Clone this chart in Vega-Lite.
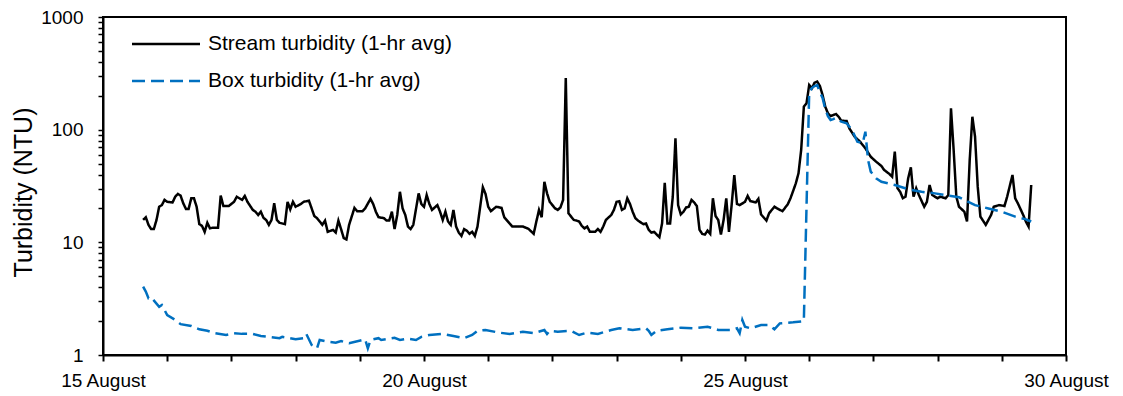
{
  "$schema": "https://vega.github.io/schema/vega-lite/v6.json",
  "width": 963,
  "height": 338,
  "autosize": {"type": "none"},
  "padding": {"left": 103, "top": 17, "right": 57, "bottom": 41},
  "background": "white",
  "config": {"font": "Liberation Sans", "view": {"stroke": "black", "strokeWidth": 2}},
  "data": {"values": [
    {"t":"2019-08-15T15:00","series":"Stream turbidity (1-hr avg)","ntu":15.8},
    {"t":"2019-08-15T16:00","series":"Stream turbidity (1-hr avg)","ntu":16.7},
    {"t":"2019-08-15T17:00","series":"Stream turbidity (1-hr avg)","ntu":14.3},
    {"t":"2019-08-15T18:00","series":"Stream turbidity (1-hr avg)","ntu":13.1},
    {"t":"2019-08-15T19:00","series":"Stream turbidity (1-hr avg)","ntu":13.1},
    {"t":"2019-08-15T20:00","series":"Stream turbidity (1-hr avg)","ntu":15.8},
    {"t":"2019-08-15T21:00","series":"Stream turbidity (1-hr avg)","ntu":20.7},
    {"t":"2019-08-15T22:00","series":"Stream turbidity (1-hr avg)","ntu":21.4},
    {"t":"2019-08-15T23:00","series":"Stream turbidity (1-hr avg)","ntu":23.8},
    {"t":"2019-08-16T00:00","series":"Stream turbidity (1-hr avg)","ntu":22.9},
    {"t":"2019-08-16T02:00","series":"Stream turbidity (1-hr avg)","ntu":22.6},
    {"t":"2019-08-16T03:00","series":"Stream turbidity (1-hr avg)","ntu":25.4},
    {"t":"2019-08-16T04:00","series":"Stream turbidity (1-hr avg)","ntu":26.9},
    {"t":"2019-08-16T05:00","series":"Stream turbidity (1-hr avg)","ntu":26.0},
    {"t":"2019-08-16T06:00","series":"Stream turbidity (1-hr avg)","ntu":22.2},
    {"t":"2019-08-16T07:00","series":"Stream turbidity (1-hr avg)","ntu":19.8},
    {"t":"2019-08-16T08:00","series":"Stream turbidity (1-hr avg)","ntu":19.8},
    {"t":"2019-08-16T09:00","series":"Stream turbidity (1-hr avg)","ntu":24.6},
    {"t":"2019-08-16T10:00","series":"Stream turbidity (1-hr avg)","ntu":24.6},
    {"t":"2019-08-16T11:00","series":"Stream turbidity (1-hr avg)","ntu":20.7},
    {"t":"2019-08-16T12:00","series":"Stream turbidity (1-hr avg)","ntu":14.5},
    {"t":"2019-08-16T13:00","series":"Stream turbidity (1-hr avg)","ntu":14.0},
    {"t":"2019-08-16T14:00","series":"Stream turbidity (1-hr avg)","ntu":12.4},
    {"t":"2019-08-16T15:00","series":"Stream turbidity (1-hr avg)","ntu":14.9},
    {"t":"2019-08-16T16:00","series":"Stream turbidity (1-hr avg)","ntu":13.3},
    {"t":"2019-08-16T17:00","series":"Stream turbidity (1-hr avg)","ntu":13.5},
    {"t":"2019-08-16T19:00","series":"Stream turbidity (1-hr avg)","ntu":13.5},
    {"t":"2019-08-16T20:00","series":"Stream turbidity (1-hr avg)","ntu":26.0},
    {"t":"2019-08-16T21:00","series":"Stream turbidity (1-hr avg)","ntu":21.0},
    {"t":"2019-08-16T23:00","series":"Stream turbidity (1-hr avg)","ntu":21.0},
    {"t":"2019-08-17T01:00","series":"Stream turbidity (1-hr avg)","ntu":22.9},
    {"t":"2019-08-17T02:00","series":"Stream turbidity (1-hr avg)","ntu":25.4},
    {"t":"2019-08-17T03:00","series":"Stream turbidity (1-hr avg)","ntu":24.6},
    {"t":"2019-08-17T04:00","series":"Stream turbidity (1-hr avg)","ntu":23.8},
    {"t":"2019-08-17T05:00","series":"Stream turbidity (1-hr avg)","ntu":25.8},
    {"t":"2019-08-17T06:00","series":"Stream turbidity (1-hr avg)","ntu":22.9},
    {"t":"2019-08-17T08:00","series":"Stream turbidity (1-hr avg)","ntu":19.4},
    {"t":"2019-08-17T09:00","series":"Stream turbidity (1-hr avg)","ntu":18.7},
    {"t":"2019-08-17T10:00","series":"Stream turbidity (1-hr avg)","ntu":17.5},
    {"t":"2019-08-17T11:00","series":"Stream turbidity (1-hr avg)","ntu":18.7},
    {"t":"2019-08-17T12:00","series":"Stream turbidity (1-hr avg)","ntu":16.5},
    {"t":"2019-08-17T13:00","series":"Stream turbidity (1-hr avg)","ntu":15.8},
    {"t":"2019-08-17T14:00","series":"Stream turbidity (1-hr avg)","ntu":14.3},
    {"t":"2019-08-17T15:00","series":"Stream turbidity (1-hr avg)","ntu":15.8},
    {"t":"2019-08-17T16:00","series":"Stream turbidity (1-hr avg)","ntu":22.2},
    {"t":"2019-08-17T17:00","series":"Stream turbidity (1-hr avg)","ntu":15.8},
    {"t":"2019-08-17T18:00","series":"Stream turbidity (1-hr avg)","ntu":14.9},
    {"t":"2019-08-17T20:00","series":"Stream turbidity (1-hr avg)","ntu":14.5},
    {"t":"2019-08-17T21:00","series":"Stream turbidity (1-hr avg)","ntu":22.9},
    {"t":"2019-08-17T22:00","series":"Stream turbidity (1-hr avg)","ntu":19.6},
    {"t":"2019-08-17T23:00","series":"Stream turbidity (1-hr avg)","ntu":22.9},
    {"t":"2019-08-18T00:00","series":"Stream turbidity (1-hr avg)","ntu":20.7},
    {"t":"2019-08-18T02:00","series":"Stream turbidity (1-hr avg)","ntu":21.9},
    {"t":"2019-08-18T03:00","series":"Stream turbidity (1-hr avg)","ntu":22.9},
    {"t":"2019-08-18T05:00","series":"Stream turbidity (1-hr avg)","ntu":23.4},
    {"t":"2019-08-18T06:00","series":"Stream turbidity (1-hr avg)","ntu":20.0},
    {"t":"2019-08-18T07:00","series":"Stream turbidity (1-hr avg)","ntu":17.1},
    {"t":"2019-08-18T08:00","series":"Stream turbidity (1-hr avg)","ntu":16.4},
    {"t":"2019-08-18T10:00","series":"Stream turbidity (1-hr avg)","ntu":14.3},
    {"t":"2019-08-18T11:00","series":"Stream turbidity (1-hr avg)","ntu":15.6},
    {"t":"2019-08-18T12:00","series":"Stream turbidity (1-hr avg)","ntu":12.4},
    {"t":"2019-08-18T14:00","series":"Stream turbidity (1-hr avg)","ntu":12.9},
    {"t":"2019-08-18T15:00","series":"Stream turbidity (1-hr avg)","ntu":12.2},
    {"t":"2019-08-18T16:00","series":"Stream turbidity (1-hr avg)","ntu":15.6},
    {"t":"2019-08-18T17:00","series":"Stream turbidity (1-hr avg)","ntu":13.1},
    {"t":"2019-08-18T18:00","series":"Stream turbidity (1-hr avg)","ntu":10.9},
    {"t":"2019-08-18T19:00","series":"Stream turbidity (1-hr avg)","ntu":10.6},
    {"t":"2019-08-18T20:00","series":"Stream turbidity (1-hr avg)","ntu":14.3},
    {"t":"2019-08-18T22:00","series":"Stream turbidity (1-hr avg)","ntu":20.2},
    {"t":"2019-08-18T23:00","series":"Stream turbidity (1-hr avg)","ntu":18.9},
    {"t":"2019-08-19T01:00","series":"Stream turbidity (1-hr avg)","ntu":18.9},
    {"t":"2019-08-19T02:00","series":"Stream turbidity (1-hr avg)","ntu":20.0},
    {"t":"2019-08-19T04:00","series":"Stream turbidity (1-hr avg)","ntu":24.3},
    {"t":"2019-08-19T05:00","series":"Stream turbidity (1-hr avg)","ntu":21.9},
    {"t":"2019-08-19T06:00","series":"Stream turbidity (1-hr avg)","ntu":18.7},
    {"t":"2019-08-19T07:00","series":"Stream turbidity (1-hr avg)","ntu":16.7},
    {"t":"2019-08-19T09:00","series":"Stream turbidity (1-hr avg)","ntu":16.4},
    {"t":"2019-08-19T10:00","series":"Stream turbidity (1-hr avg)","ntu":15.6},
    {"t":"2019-08-19T11:00","series":"Stream turbidity (1-hr avg)","ntu":15.6},
    {"t":"2019-08-19T12:00","series":"Stream turbidity (1-hr avg)","ntu":18.7},
    {"t":"2019-08-19T13:00","series":"Stream turbidity (1-hr avg)","ntu":13.1},
    {"t":"2019-08-19T14:00","series":"Stream turbidity (1-hr avg)","ntu":17.5},
    {"t":"2019-08-19T15:00","series":"Stream turbidity (1-hr avg)","ntu":28.1},
    {"t":"2019-08-19T16:00","series":"Stream turbidity (1-hr avg)","ntu":20.0},
    {"t":"2019-08-19T17:00","series":"Stream turbidity (1-hr avg)","ntu":17.5},
    {"t":"2019-08-19T18:00","series":"Stream turbidity (1-hr avg)","ntu":13.8},
    {"t":"2019-08-19T19:00","series":"Stream turbidity (1-hr avg)","ntu":13.1},
    {"t":"2019-08-19T20:00","series":"Stream turbidity (1-hr avg)","ntu":14.3},
    {"t":"2019-08-19T22:00","series":"Stream turbidity (1-hr avg)","ntu":27.2},
    {"t":"2019-08-19T23:00","series":"Stream turbidity (1-hr avg)","ntu":21.9},
    {"t":"2019-08-20T00:00","series":"Stream turbidity (1-hr avg)","ntu":20.7},
    {"t":"2019-08-20T01:00","series":"Stream turbidity (1-hr avg)","ntu":26.3},
    {"t":"2019-08-20T02:00","series":"Stream turbidity (1-hr avg)","ntu":21.9},
    {"t":"2019-08-20T03:00","series":"Stream turbidity (1-hr avg)","ntu":19.4},
    {"t":"2019-08-20T05:00","series":"Stream turbidity (1-hr avg)","ntu":21.4},
    {"t":"2019-08-20T06:00","series":"Stream turbidity (1-hr avg)","ntu":18.7},
    {"t":"2019-08-20T07:00","series":"Stream turbidity (1-hr avg)","ntu":15.8},
    {"t":"2019-08-20T08:00","series":"Stream turbidity (1-hr avg)","ntu":18.7},
    {"t":"2019-08-20T09:00","series":"Stream turbidity (1-hr avg)","ntu":15.3},
    {"t":"2019-08-20T10:00","series":"Stream turbidity (1-hr avg)","ntu":14.3},
    {"t":"2019-08-20T11:00","series":"Stream turbidity (1-hr avg)","ntu":19.4},
    {"t":"2019-08-20T12:00","series":"Stream turbidity (1-hr avg)","ntu":13.8},
    {"t":"2019-08-20T13:00","series":"Stream turbidity (1-hr avg)","ntu":12.2},
    {"t":"2019-08-20T14:00","series":"Stream turbidity (1-hr avg)","ntu":11.4},
    {"t":"2019-08-20T15:00","series":"Stream turbidity (1-hr avg)","ntu":13.1},
    {"t":"2019-08-20T16:00","series":"Stream turbidity (1-hr avg)","ntu":12.7},
    {"t":"2019-08-20T17:00","series":"Stream turbidity (1-hr avg)","ntu":11.9},
    {"t":"2019-08-20T18:00","series":"Stream turbidity (1-hr avg)","ntu":12.4},
    {"t":"2019-08-20T19:00","series":"Stream turbidity (1-hr avg)","ntu":11.4},
    {"t":"2019-08-20T20:00","series":"Stream turbidity (1-hr avg)","ntu":13.8},
    {"t":"2019-08-20T21:00","series":"Stream turbidity (1-hr avg)","ntu":20.7},
    {"t":"2019-08-20T22:00","series":"Stream turbidity (1-hr avg)","ntu":30.8},
    {"t":"2019-08-20T23:00","series":"Stream turbidity (1-hr avg)","ntu":26.9},
    {"t":"2019-08-21T00:00","series":"Stream turbidity (1-hr avg)","ntu":20.7},
    {"t":"2019-08-21T01:00","series":"Stream turbidity (1-hr avg)","ntu":18.9},
    {"t":"2019-08-21T03:00","series":"Stream turbidity (1-hr avg)","ntu":20.7},
    {"t":"2019-08-21T05:00","series":"Stream turbidity (1-hr avg)","ntu":20.2},
    {"t":"2019-08-21T06:00","series":"Stream turbidity (1-hr avg)","ntu":16.7},
    {"t":"2019-08-21T08:00","series":"Stream turbidity (1-hr avg)","ntu":14.7},
    {"t":"2019-08-21T09:00","series":"Stream turbidity (1-hr avg)","ntu":13.8},
    {"t":"2019-08-21T13:00","series":"Stream turbidity (1-hr avg)","ntu":13.8},
    {"t":"2019-08-21T15:00","series":"Stream turbidity (1-hr avg)","ntu":13.2},
    {"t":"2019-08-21T17:00","series":"Stream turbidity (1-hr avg)","ntu":11.9},
    {"t":"2019-08-21T18:00","series":"Stream turbidity (1-hr avg)","ntu":15.3},
    {"t":"2019-08-21T19:00","series":"Stream turbidity (1-hr avg)","ntu":19.4},
    {"t":"2019-08-21T20:00","series":"Stream turbidity (1-hr avg)","ntu":16.7},
    {"t":"2019-08-21T21:00","series":"Stream turbidity (1-hr avg)","ntu":34.5},
    {"t":"2019-08-21T22:00","series":"Stream turbidity (1-hr avg)","ntu":27.2},
    {"t":"2019-08-21T23:00","series":"Stream turbidity (1-hr avg)","ntu":22.9},
    {"t":"2019-08-22T01:00","series":"Stream turbidity (1-hr avg)","ntu":20.0},
    {"t":"2019-08-22T02:00","series":"Stream turbidity (1-hr avg)","ntu":19.4},
    {"t":"2019-08-22T03:00","series":"Stream turbidity (1-hr avg)","ntu":20.4},
    {"t":"2019-08-22T04:00","series":"Stream turbidity (1-hr avg)","ntu":23.8},
    {"t":"2019-08-22T05:00","series":"Stream turbidity (1-hr avg)","ntu":287},
    {"t":"2019-08-22T06:00","series":"Stream turbidity (1-hr avg)","ntu":18.1},
    {"t":"2019-08-22T08:00","series":"Stream turbidity (1-hr avg)","ntu":15.8},
    {"t":"2019-08-22T09:00","series":"Stream turbidity (1-hr avg)","ntu":15.6},
    {"t":"2019-08-22T10:00","series":"Stream turbidity (1-hr avg)","ntu":15.3},
    {"t":"2019-08-22T11:00","series":"Stream turbidity (1-hr avg)","ntu":14.0},
    {"t":"2019-08-22T12:00","series":"Stream turbidity (1-hr avg)","ntu":13.3},
    {"t":"2019-08-22T13:00","series":"Stream turbidity (1-hr avg)","ntu":13.8},
    {"t":"2019-08-22T14:00","series":"Stream turbidity (1-hr avg)","ntu":12.4},
    {"t":"2019-08-22T16:00","series":"Stream turbidity (1-hr avg)","ntu":12.4},
    {"t":"2019-08-22T17:00","series":"Stream turbidity (1-hr avg)","ntu":13.1},
    {"t":"2019-08-22T18:00","series":"Stream turbidity (1-hr avg)","ntu":12.4},
    {"t":"2019-08-22T19:00","series":"Stream turbidity (1-hr avg)","ntu":13.8},
    {"t":"2019-08-22T20:00","series":"Stream turbidity (1-hr avg)","ntu":15.8},
    {"t":"2019-08-22T22:00","series":"Stream turbidity (1-hr avg)","ntu":17.5},
    {"t":"2019-08-22T23:00","series":"Stream turbidity (1-hr avg)","ntu":19.4},
    {"t":"2019-08-23T00:00","series":"Stream turbidity (1-hr avg)","ntu":22.9},
    {"t":"2019-08-23T01:00","series":"Stream turbidity (1-hr avg)","ntu":23.2},
    {"t":"2019-08-23T02:00","series":"Stream turbidity (1-hr avg)","ntu":19.4},
    {"t":"2019-08-23T03:00","series":"Stream turbidity (1-hr avg)","ntu":20.0},
    {"t":"2019-08-23T04:00","series":"Stream turbidity (1-hr avg)","ntu":24.6},
    {"t":"2019-08-23T05:00","series":"Stream turbidity (1-hr avg)","ntu":21.9},
    {"t":"2019-08-23T06:00","series":"Stream turbidity (1-hr avg)","ntu":18.7},
    {"t":"2019-08-23T07:00","series":"Stream turbidity (1-hr avg)","ntu":16.4},
    {"t":"2019-08-23T08:00","series":"Stream turbidity (1-hr avg)","ntu":15.6},
    {"t":"2019-08-23T10:00","series":"Stream turbidity (1-hr avg)","ntu":14.5},
    {"t":"2019-08-23T11:00","series":"Stream turbidity (1-hr avg)","ntu":14.7},
    {"t":"2019-08-23T12:00","series":"Stream turbidity (1-hr avg)","ntu":12.9},
    {"t":"2019-08-23T13:00","series":"Stream turbidity (1-hr avg)","ntu":12.2},
    {"t":"2019-08-23T14:00","series":"Stream turbidity (1-hr avg)","ntu":12.4},
    {"t":"2019-08-23T16:00","series":"Stream turbidity (1-hr avg)","ntu":11.1},
    {"t":"2019-08-23T17:00","series":"Stream turbidity (1-hr avg)","ntu":14.7},
    {"t":"2019-08-23T18:00","series":"Stream turbidity (1-hr avg)","ntu":33.8},
    {"t":"2019-08-23T19:00","series":"Stream turbidity (1-hr avg)","ntu":14.7},
    {"t":"2019-08-23T20:00","series":"Stream turbidity (1-hr avg)","ntu":14.7},
    {"t":"2019-08-23T21:00","series":"Stream turbidity (1-hr avg)","ntu":25.4},
    {"t":"2019-08-23T22:00","series":"Stream turbidity (1-hr avg)","ntu":83.8},
    {"t":"2019-08-23T23:00","series":"Stream turbidity (1-hr avg)","ntu":21.4},
    {"t":"2019-08-24T00:00","series":"Stream turbidity (1-hr avg)","ntu":17.7},
    {"t":"2019-08-24T01:00","series":"Stream turbidity (1-hr avg)","ntu":18.7},
    {"t":"2019-08-24T02:00","series":"Stream turbidity (1-hr avg)","ntu":20.4},
    {"t":"2019-08-24T03:00","series":"Stream turbidity (1-hr avg)","ntu":20.7},
    {"t":"2019-08-24T04:00","series":"Stream turbidity (1-hr avg)","ntu":23.8},
    {"t":"2019-08-24T05:00","series":"Stream turbidity (1-hr avg)","ntu":22.6},
    {"t":"2019-08-24T06:00","series":"Stream turbidity (1-hr avg)","ntu":21.0},
    {"t":"2019-08-24T07:00","series":"Stream turbidity (1-hr avg)","ntu":12.9},
    {"t":"2019-08-24T08:00","series":"Stream turbidity (1-hr avg)","ntu":11.9},
    {"t":"2019-08-24T09:00","series":"Stream turbidity (1-hr avg)","ntu":11.7},
    {"t":"2019-08-24T10:00","series":"Stream turbidity (1-hr avg)","ntu":12.7},
    {"t":"2019-08-24T11:00","series":"Stream turbidity (1-hr avg)","ntu":11.9},
    {"t":"2019-08-24T12:00","series":"Stream turbidity (1-hr avg)","ntu":24.6},
    {"t":"2019-08-24T13:00","series":"Stream turbidity (1-hr avg)","ntu":17.1},
    {"t":"2019-08-24T14:00","series":"Stream turbidity (1-hr avg)","ntu":15.8},
    {"t":"2019-08-24T15:00","series":"Stream turbidity (1-hr avg)","ntu":11.7},
    {"t":"2019-08-24T16:00","series":"Stream turbidity (1-hr avg)","ntu":15.8},
    {"t":"2019-08-24T17:00","series":"Stream turbidity (1-hr avg)","ntu":24.6},
    {"t":"2019-08-24T18:00","series":"Stream turbidity (1-hr avg)","ntu":12.4},
    {"t":"2019-08-24T19:00","series":"Stream turbidity (1-hr avg)","ntu":21.4},
    {"t":"2019-08-24T20:00","series":"Stream turbidity (1-hr avg)","ntu":39.6},
    {"t":"2019-08-24T21:00","series":"Stream turbidity (1-hr avg)","ntu":21.9},
    {"t":"2019-08-24T22:00","series":"Stream turbidity (1-hr avg)","ntu":21.4},
    {"t":"2019-08-25T00:00","series":"Stream turbidity (1-hr avg)","ntu":22.9},
    {"t":"2019-08-25T01:00","series":"Stream turbidity (1-hr avg)","ntu":25.8},
    {"t":"2019-08-25T02:00","series":"Stream turbidity (1-hr avg)","ntu":23.2},
    {"t":"2019-08-25T04:00","series":"Stream turbidity (1-hr avg)","ntu":22.6},
    {"t":"2019-08-25T05:00","series":"Stream turbidity (1-hr avg)","ntu":24.3},
    {"t":"2019-08-25T06:00","series":"Stream turbidity (1-hr avg)","ntu":17.7},
    {"t":"2019-08-25T08:00","series":"Stream turbidity (1-hr avg)","ntu":15.6},
    {"t":"2019-08-25T09:00","series":"Stream turbidity (1-hr avg)","ntu":18.1},
    {"t":"2019-08-25T11:00","series":"Stream turbidity (1-hr avg)","ntu":20.7},
    {"t":"2019-08-25T12:00","series":"Stream turbidity (1-hr avg)","ntu":20.0},
    {"t":"2019-08-25T14:00","series":"Stream turbidity (1-hr avg)","ntu":18.9},
    {"t":"2019-08-25T16:00","series":"Stream turbidity (1-hr avg)","ntu":21.8},
    {"t":"2019-08-25T17:00","series":"Stream turbidity (1-hr avg)","ntu":24.6},
    {"t":"2019-08-25T18:00","series":"Stream turbidity (1-hr avg)","ntu":28.6},
    {"t":"2019-08-25T19:00","series":"Stream turbidity (1-hr avg)","ntu":33.4},
    {"t":"2019-08-25T20:00","series":"Stream turbidity (1-hr avg)","ntu":41.0},
    {"t":"2019-08-25T21:00","series":"Stream turbidity (1-hr avg)","ntu":66},
    {"t":"2019-08-25T22:00","series":"Stream turbidity (1-hr avg)","ntu":160},
    {"t":"2019-08-25T23:00","series":"Stream turbidity (1-hr avg)","ntu":171.5},
    {"t":"2019-08-26T00:00","series":"Stream turbidity (1-hr avg)","ntu":249},
    {"t":"2019-08-26T01:00","series":"Stream turbidity (1-hr avg)","ntu":233},
    {"t":"2019-08-26T02:00","series":"Stream turbidity (1-hr avg)","ntu":261},
    {"t":"2019-08-26T03:00","series":"Stream turbidity (1-hr avg)","ntu":267},
    {"t":"2019-08-26T04:00","series":"Stream turbidity (1-hr avg)","ntu":244},
    {"t":"2019-08-26T05:00","series":"Stream turbidity (1-hr avg)","ntu":203},
    {"t":"2019-08-26T06:00","series":"Stream turbidity (1-hr avg)","ntu":160},
    {"t":"2019-08-26T07:00","series":"Stream turbidity (1-hr avg)","ntu":139.7},
    {"t":"2019-08-26T08:00","series":"Stream turbidity (1-hr avg)","ntu":132.2},
    {"t":"2019-08-26T10:00","series":"Stream turbidity (1-hr avg)","ntu":137.6},
    {"t":"2019-08-26T11:00","series":"Stream turbidity (1-hr avg)","ntu":130.4},
    {"t":"2019-08-26T12:00","series":"Stream turbidity (1-hr avg)","ntu":120.1},
    {"t":"2019-08-26T14:00","series":"Stream turbidity (1-hr avg)","ntu":119.4},
    {"t":"2019-08-26T15:00","series":"Stream turbidity (1-hr avg)","ntu":102.8},
    {"t":"2019-08-26T17:00","series":"Stream turbidity (1-hr avg)","ntu":86.6},
    {"t":"2019-08-26T19:00","series":"Stream turbidity (1-hr avg)","ntu":78.2},
    {"t":"2019-08-26T21:00","series":"Stream turbidity (1-hr avg)","ntu":68.3},
    {"t":"2019-08-26T23:00","series":"Stream turbidity (1-hr avg)","ntu":57.5},
    {"t":"2019-08-27T01:00","series":"Stream turbidity (1-hr avg)","ntu":52.0},
    {"t":"2019-08-27T03:00","series":"Stream turbidity (1-hr avg)","ntu":47.6},
    {"t":"2019-08-27T04:00","series":"Stream turbidity (1-hr avg)","ntu":43.9},
    {"t":"2019-08-27T06:00","series":"Stream turbidity (1-hr avg)","ntu":40.4},
    {"t":"2019-08-27T07:00","series":"Stream turbidity (1-hr avg)","ntu":38.2},
    {"t":"2019-08-27T08:00","series":"Stream turbidity (1-hr avg)","ntu":63.8},
    {"t":"2019-08-27T09:00","series":"Stream turbidity (1-hr avg)","ntu":30.2},
    {"t":"2019-08-27T10:00","series":"Stream turbidity (1-hr avg)","ntu":28.1},
    {"t":"2019-08-27T11:00","series":"Stream turbidity (1-hr avg)","ntu":24.6},
    {"t":"2019-08-27T12:00","series":"Stream turbidity (1-hr avg)","ntu":25.4},
    {"t":"2019-08-27T13:00","series":"Stream turbidity (1-hr avg)","ntu":37.0},
    {"t":"2019-08-27T14:00","series":"Stream turbidity (1-hr avg)","ntu":46.3},
    {"t":"2019-08-27T15:00","series":"Stream turbidity (1-hr avg)","ntu":25.4},
    {"t":"2019-08-27T16:00","series":"Stream turbidity (1-hr avg)","ntu":30.2},
    {"t":"2019-08-27T17:00","series":"Stream turbidity (1-hr avg)","ntu":26.3},
    {"t":"2019-08-27T19:00","series":"Stream turbidity (1-hr avg)","ntu":20.7},
    {"t":"2019-08-27T20:00","series":"Stream turbidity (1-hr avg)","ntu":22.9},
    {"t":"2019-08-27T21:00","series":"Stream turbidity (1-hr avg)","ntu":32.3},
    {"t":"2019-08-27T22:00","series":"Stream turbidity (1-hr avg)","ntu":26.3},
    {"t":"2019-08-28T00:00","series":"Stream turbidity (1-hr avg)","ntu":24.6},
    {"t":"2019-08-28T01:00","series":"Stream turbidity (1-hr avg)","ntu":25.4},
    {"t":"2019-08-28T03:00","series":"Stream turbidity (1-hr avg)","ntu":24.6},
    {"t":"2019-08-28T04:00","series":"Stream turbidity (1-hr avg)","ntu":26.3},
    {"t":"2019-08-28T05:00","series":"Stream turbidity (1-hr avg)","ntu":154.7},
    {"t":"2019-08-28T06:00","series":"Stream turbidity (1-hr avg)","ntu":66},
    {"t":"2019-08-28T07:00","series":"Stream turbidity (1-hr avg)","ntu":25.4},
    {"t":"2019-08-28T08:00","series":"Stream turbidity (1-hr avg)","ntu":20.7},
    {"t":"2019-08-28T10:00","series":"Stream turbidity (1-hr avg)","ntu":18.7},
    {"t":"2019-08-28T11:00","series":"Stream turbidity (1-hr avg)","ntu":15.3},
    {"t":"2019-08-28T12:00","series":"Stream turbidity (1-hr avg)","ntu":53.8},
    {"t":"2019-08-28T13:00","series":"Stream turbidity (1-hr avg)","ntu":130.3},
    {"t":"2019-08-28T14:00","series":"Stream turbidity (1-hr avg)","ntu":86.6},
    {"t":"2019-08-28T15:00","series":"Stream turbidity (1-hr avg)","ntu":31.2},
    {"t":"2019-08-28T16:00","series":"Stream turbidity (1-hr avg)","ntu":16.9},
    {"t":"2019-08-28T18:00","series":"Stream turbidity (1-hr avg)","ntu":14.3},
    {"t":"2019-08-28T20:00","series":"Stream turbidity (1-hr avg)","ntu":17.5},
    {"t":"2019-08-28T21:00","series":"Stream turbidity (1-hr avg)","ntu":20.7},
    {"t":"2019-08-28T23:00","series":"Stream turbidity (1-hr avg)","ntu":21.4},
    {"t":"2019-08-29T01:00","series":"Stream turbidity (1-hr avg)","ntu":21.0},
    {"t":"2019-08-29T02:00","series":"Stream turbidity (1-hr avg)","ntu":25.4},
    {"t":"2019-08-29T04:00","series":"Stream turbidity (1-hr avg)","ntu":39.6},
    {"t":"2019-08-29T05:00","series":"Stream turbidity (1-hr avg)","ntu":24.6},
    {"t":"2019-08-29T06:00","series":"Stream turbidity (1-hr avg)","ntu":22.2},
    {"t":"2019-08-29T08:00","series":"Stream turbidity (1-hr avg)","ntu":17.5},
    {"t":"2019-08-29T09:00","series":"Stream turbidity (1-hr avg)","ntu":15.3},
    {"t":"2019-08-29T10:00","series":"Stream turbidity (1-hr avg)","ntu":13.8},
    {"t":"2019-08-29T11:00","series":"Stream turbidity (1-hr avg)","ntu":32.3},
    {"t":"2019-08-15T15:00","series":"Box turbidity (1-hr avg)","ntu":4.04},
    {"t":"2019-08-15T16:00","series":"Box turbidity (1-hr avg)","ntu":3.65},
    {"t":"2019-08-15T17:00","series":"Box turbidity (1-hr avg)","ntu":3.19},
    {"t":"2019-08-15T18:00","series":"Box turbidity (1-hr avg)","ntu":3.25},
    {"t":"2019-08-15T21:00","series":"Box turbidity (1-hr avg)","ntu":2.68},
    {"t":"2019-08-15T22:00","series":"Box turbidity (1-hr avg)","ntu":2.78},
    {"t":"2019-08-16T00:00","series":"Box turbidity (1-hr avg)","ntu":2.26},
    {"t":"2019-08-16T03:00","series":"Box turbidity (1-hr avg)","ntu":2.05},
    {"t":"2019-08-16T05:00","series":"Box turbidity (1-hr avg)","ntu":1.88},
    {"t":"2019-08-16T09:00","series":"Box turbidity (1-hr avg)","ntu":1.81},
    {"t":"2019-08-16T12:00","series":"Box turbidity (1-hr avg)","ntu":1.69},
    {"t":"2019-08-16T15:00","series":"Box turbidity (1-hr avg)","ntu":1.64},
    {"t":"2019-08-16T18:00","series":"Box turbidity (1-hr avg)","ntu":1.56},
    {"t":"2019-08-16T22:00","series":"Box turbidity (1-hr avg)","ntu":1.505},
    {"t":"2019-08-17T01:00","series":"Box turbidity (1-hr avg)","ntu":1.56},
    {"t":"2019-08-17T04:00","series":"Box turbidity (1-hr avg)","ntu":1.54},
    {"t":"2019-08-17T08:00","series":"Box turbidity (1-hr avg)","ntu":1.54},
    {"t":"2019-08-17T11:00","series":"Box turbidity (1-hr avg)","ntu":1.475},
    {"t":"2019-08-17T14:00","series":"Box turbidity (1-hr avg)","ntu":1.45},
    {"t":"2019-08-17T18:00","series":"Box turbidity (1-hr avg)","ntu":1.41},
    {"t":"2019-08-17T19:00","series":"Box turbidity (1-hr avg)","ntu":1.45},
    {"t":"2019-08-18T00:00","series":"Box turbidity (1-hr avg)","ntu":1.38},
    {"t":"2019-08-18T03:00","series":"Box turbidity (1-hr avg)","ntu":1.41},
    {"t":"2019-08-18T04:00","series":"Box turbidity (1-hr avg)","ntu":1.54},
    {"t":"2019-08-18T06:00","series":"Box turbidity (1-hr avg)","ntu":1.227},
    {"t":"2019-08-18T08:00","series":"Box turbidity (1-hr avg)","ntu":1.147},
    {"t":"2019-08-18T09:00","series":"Box turbidity (1-hr avg)","ntu":1.36},
    {"t":"2019-08-18T12:00","series":"Box turbidity (1-hr avg)","ntu":1.31},
    {"t":"2019-08-18T15:00","series":"Box turbidity (1-hr avg)","ntu":1.286},
    {"t":"2019-08-18T17:00","series":"Box turbidity (1-hr avg)","ntu":1.33},
    {"t":"2019-08-18T19:00","series":"Box turbidity (1-hr avg)","ntu":1.286},
    {"t":"2019-08-18T20:00","series":"Box turbidity (1-hr avg)","ntu":1.27},
    {"t":"2019-08-19T01:00","series":"Box turbidity (1-hr avg)","ntu":1.36},
    {"t":"2019-08-19T02:00","series":"Box turbidity (1-hr avg)","ntu":1.38},
    {"t":"2019-08-19T03:00","series":"Box turbidity (1-hr avg)","ntu":1.147},
    {"t":"2019-08-19T04:00","series":"Box turbidity (1-hr avg)","ntu":1.36},
    {"t":"2019-08-19T07:00","series":"Box turbidity (1-hr avg)","ntu":1.41},
    {"t":"2019-08-19T08:00","series":"Box turbidity (1-hr avg)","ntu":1.36},
    {"t":"2019-08-19T13:00","series":"Box turbidity (1-hr avg)","ntu":1.42},
    {"t":"2019-08-19T15:00","series":"Box turbidity (1-hr avg)","ntu":1.36},
    {"t":"2019-08-19T18:00","series":"Box turbidity (1-hr avg)","ntu":1.395},
    {"t":"2019-08-19T21:00","series":"Box turbidity (1-hr avg)","ntu":1.36},
    {"t":"2019-08-19T23:00","series":"Box turbidity (1-hr avg)","ntu":1.45},
    {"t":"2019-08-20T02:00","series":"Box turbidity (1-hr avg)","ntu":1.505},
    {"t":"2019-08-20T07:00","series":"Box turbidity (1-hr avg)","ntu":1.54},
    {"t":"2019-08-20T11:00","series":"Box turbidity (1-hr avg)","ntu":1.475},
    {"t":"2019-08-20T15:00","series":"Box turbidity (1-hr avg)","ntu":1.41},
    {"t":"2019-08-20T18:00","series":"Box turbidity (1-hr avg)","ntu":1.505},
    {"t":"2019-08-20T20:00","series":"Box turbidity (1-hr avg)","ntu":1.64},
    {"t":"2019-08-20T23:00","series":"Box turbidity (1-hr avg)","ntu":1.667},
    {"t":"2019-08-21T04:00","series":"Box turbidity (1-hr avg)","ntu":1.58},
    {"t":"2019-08-21T08:00","series":"Box turbidity (1-hr avg)","ntu":1.54},
    {"t":"2019-08-21T13:00","series":"Box turbidity (1-hr avg)","ntu":1.61},
    {"t":"2019-08-21T17:00","series":"Box turbidity (1-hr avg)","ntu":1.56},
    {"t":"2019-08-21T21:00","series":"Box turbidity (1-hr avg)","ntu":1.667},
    {"t":"2019-08-21T22:00","series":"Box turbidity (1-hr avg)","ntu":1.54},
    {"t":"2019-08-21T23:00","series":"Box turbidity (1-hr avg)","ntu":1.64},
    {"t":"2019-08-22T02:00","series":"Box turbidity (1-hr avg)","ntu":1.61},
    {"t":"2019-08-22T07:00","series":"Box turbidity (1-hr avg)","ntu":1.64},
    {"t":"2019-08-22T10:00","series":"Box turbidity (1-hr avg)","ntu":1.505},
    {"t":"2019-08-22T13:00","series":"Box turbidity (1-hr avg)","ntu":1.58},
    {"t":"2019-08-22T17:00","series":"Box turbidity (1-hr avg)","ntu":1.54},
    {"t":"2019-08-22T22:00","series":"Box turbidity (1-hr avg)","ntu":1.667},
    {"t":"2019-08-23T01:00","series":"Box turbidity (1-hr avg)","ntu":1.726},
    {"t":"2019-08-23T06:00","series":"Box turbidity (1-hr avg)","ntu":1.667},
    {"t":"2019-08-23T11:00","series":"Box turbidity (1-hr avg)","ntu":1.726},
    {"t":"2019-08-23T12:00","series":"Box turbidity (1-hr avg)","ntu":1.64},
    {"t":"2019-08-23T13:00","series":"Box turbidity (1-hr avg)","ntu":1.505},
    {"t":"2019-08-23T15:00","series":"Box turbidity (1-hr avg)","ntu":1.64},
    {"t":"2019-08-23T19:00","series":"Box turbidity (1-hr avg)","ntu":1.69},
    {"t":"2019-08-24T00:00","series":"Box turbidity (1-hr avg)","ntu":1.747},
    {"t":"2019-08-24T05:00","series":"Box turbidity (1-hr avg)","ntu":1.726},
    {"t":"2019-08-24T10:00","series":"Box turbidity (1-hr avg)","ntu":1.78},
    {"t":"2019-08-24T12:00","series":"Box turbidity (1-hr avg)","ntu":1.726},
    {"t":"2019-08-24T14:00","series":"Box turbidity (1-hr avg)","ntu":1.667},
    {"t":"2019-08-24T19:00","series":"Box turbidity (1-hr avg)","ntu":1.667},
    {"t":"2019-08-24T21:00","series":"Box turbidity (1-hr avg)","ntu":1.726},
    {"t":"2019-08-24T22:00","series":"Box turbidity (1-hr avg)","ntu":1.56},
    {"t":"2019-08-24T23:00","series":"Box turbidity (1-hr avg)","ntu":2.045},
    {"t":"2019-08-25T00:00","series":"Box turbidity (1-hr avg)","ntu":1.78},
    {"t":"2019-08-25T02:00","series":"Box turbidity (1-hr avg)","ntu":1.726},
    {"t":"2019-08-25T06:00","series":"Box turbidity (1-hr avg)","ntu":1.846},
    {"t":"2019-08-25T09:00","series":"Box turbidity (1-hr avg)","ntu":1.846},
    {"t":"2019-08-25T11:00","series":"Box turbidity (1-hr avg)","ntu":1.69},
    {"t":"2019-08-25T13:00","series":"Box turbidity (1-hr avg)","ntu":1.91},
    {"t":"2019-08-25T18:00","series":"Box turbidity (1-hr avg)","ntu":1.95},
    {"t":"2019-08-25T22:00","series":"Box turbidity (1-hr avg)","ntu":2.0},
    {"t":"2019-08-26T00:00","series":"Box turbidity (1-hr avg)","ntu":215},
    {"t":"2019-08-26T01:00","series":"Box turbidity (1-hr avg)","ntu":234},
    {"t":"2019-08-26T02:00","series":"Box turbidity (1-hr avg)","ntu":244},
    {"t":"2019-08-26T03:00","series":"Box turbidity (1-hr avg)","ntu":249},
    {"t":"2019-08-26T04:00","series":"Box turbidity (1-hr avg)","ntu":215},
    {"t":"2019-08-26T05:00","series":"Box turbidity (1-hr avg)","ntu":191},
    {"t":"2019-08-26T06:00","series":"Box turbidity (1-hr avg)","ntu":152.6},
    {"t":"2019-08-26T07:00","series":"Box turbidity (1-hr avg)","ntu":132},
    {"t":"2019-08-26T08:00","series":"Box turbidity (1-hr avg)","ntu":121.8},
    {"t":"2019-08-26T09:00","series":"Box turbidity (1-hr avg)","ntu":124},
    {"t":"2019-08-26T10:00","series":"Box turbidity (1-hr avg)","ntu":127},
    {"t":"2019-08-26T12:00","series":"Box turbidity (1-hr avg)","ntu":117.7},
    {"t":"2019-08-26T14:00","series":"Box turbidity (1-hr avg)","ntu":113.9},
    {"t":"2019-08-26T16:00","series":"Box turbidity (1-hr avg)","ntu":99.3},
    {"t":"2019-08-26T18:00","series":"Box turbidity (1-hr avg)","ntu":78.2},
    {"t":"2019-08-26T20:00","series":"Box turbidity (1-hr avg)","ntu":75.7},
    {"t":"2019-08-26T21:00","series":"Box turbidity (1-hr avg)","ntu":95.9},
    {"t":"2019-08-26T22:00","series":"Box turbidity (1-hr avg)","ntu":53.8},
    {"t":"2019-08-26T23:00","series":"Box turbidity (1-hr avg)","ntu":42.4},
    {"t":"2019-08-27T01:00","series":"Box turbidity (1-hr avg)","ntu":37.0},
    {"t":"2019-08-27T03:00","series":"Box turbidity (1-hr avg)","ntu":34.5},
    {"t":"2019-08-27T08:00","series":"Box turbidity (1-hr avg)","ntu":32.3},
    {"t":"2019-08-27T13:00","series":"Box turbidity (1-hr avg)","ntu":29.6},
    {"t":"2019-08-27T18:00","series":"Box turbidity (1-hr avg)","ntu":28.1},
    {"t":"2019-08-27T23:00","series":"Box turbidity (1-hr avg)","ntu":27.2},
    {"t":"2019-08-28T05:00","series":"Box turbidity (1-hr avg)","ntu":25.8},
    {"t":"2019-08-28T08:00","series":"Box turbidity (1-hr avg)","ntu":25.1},
    {"t":"2019-08-28T14:00","series":"Box turbidity (1-hr avg)","ntu":21.4},
    {"t":"2019-08-28T19:00","series":"Box turbidity (1-hr avg)","ntu":20.0},
    {"t":"2019-08-29T00:00","series":"Box turbidity (1-hr avg)","ntu":18.7},
    {"t":"2019-08-29T05:00","series":"Box turbidity (1-hr avg)","ntu":16.9},
    {"t":"2019-08-29T09:00","series":"Box turbidity (1-hr avg)","ntu":16.0},
    {"t":"2019-08-29T11:00","series":"Box turbidity (1-hr avg)","ntu":15.3}
  ]},
  "mark": {"type": "line", "strokeWidth": 2.5, "interpolate": "linear", "clip": true},
  "encoding": {
    "x": {
      "field": "t", "type": "temporal",
      "scale": {"domain": [{"year": 2019, "month": 8, "date": 15}, {"year": 2019, "month": 8, "date": 30}]},
      "axis": {
        "values": [
          {"year": 2019, "month": 8, "date": 15}, {"year": 2019, "month": 8, "date": 16},
          {"year": 2019, "month": 8, "date": 17}, {"year": 2019, "month": 8, "date": 18},
          {"year": 2019, "month": 8, "date": 19}, {"year": 2019, "month": 8, "date": 20},
          {"year": 2019, "month": 8, "date": 21}, {"year": 2019, "month": 8, "date": 22},
          {"year": 2019, "month": 8, "date": 23}, {"year": 2019, "month": 8, "date": 24},
          {"year": 2019, "month": 8, "date": 25}, {"year": 2019, "month": 8, "date": 26},
          {"year": 2019, "month": 8, "date": 27}, {"year": 2019, "month": 8, "date": 28},
          {"year": 2019, "month": 8, "date": 29}, {"year": 2019, "month": 8, "date": 30}
        ],
        "labelExpr": "date(datum.value) % 5 == 0 ? timeFormat(datum.value, '%-d %B') : ''",
        "title": null, "grid": false,
        "domainColor": "black", "domainWidth": 2,
        "tickColor": "black", "tickWidth": 2, "tickSize": 6,
        "labelFontSize": 19, "labelColor": "black", "labelPadding": 10,
        "labelOverlap": false, "labelFlush": false
      }
    },
    "y": {
      "field": "ntu", "type": "quantitative",
      "scale": {"type": "log", "domain": [1, 1000], "nice": false},
      "axis": {
        "values": [1,2,3,4,5,6,7,8,9,10,20,30,40,50,60,70,80,90,100,200,300,400,500,600,700,800,900,1000],
        "labelExpr": "(datum.value == 1 || datum.value == 10 || datum.value == 100 || datum.value == 1000) ? '' + datum.value : ''",
        "title": "Turbidity (NTU)", "titleFontSize": 25, "titleFontWeight": "normal", "titleColor": "black",
        "titleX": -80, "titleY": 175, "titleAlign": "center", "titleBaseline": "middle", "titleAngle": -90,
        "grid": false,
        "domainColor": "black", "domainWidth": 2,
        "tickColor": "black", "tickWidth": 1.5, "tickSize": 5,
        "labelFontSize": 19, "labelColor": "black", "labelPadding": 15,
        "labelOverlap": false, "labelFlush": false
      }
    },
    "color": {
      "field": "series", "type": "nominal",
      "scale": {"domain": ["Stream turbidity (1-hr avg)", "Box turbidity (1-hr avg)"], "range": ["#000000", "#0070C0"]},
      "legend": {
        "orient": "none", "legendX": 27.5, "legendY": 17, "title": null, "padding": 0,
        "symbolType": "stroke", "symbolSize": 4624, "symbolStrokeWidth": 2.5,
        "clipHeight": 20, "rowPadding": 16, "labelOffset": 6.5,
        "labelFontSize": 21, "labelColor": "black", "labelLimit": 500
      }
    },
    "strokeDash": {
      "field": "series", "type": "nominal",
      "scale": {"domain": ["Stream turbidity (1-hr avg)", "Box turbidity (1-hr avg)"], "range": [[1, 0], [13, 6]]},
      "legend": {
        "orient": "none", "legendX": 27.5, "legendY": 17, "title": null, "padding": 0,
        "symbolType": "stroke", "symbolSize": 4624, "symbolStrokeWidth": 2.5,
        "clipHeight": 20, "rowPadding": 16, "labelOffset": 6.5,
        "labelFontSize": 21, "labelColor": "black", "labelLimit": 500
      }
    }
  }
}
